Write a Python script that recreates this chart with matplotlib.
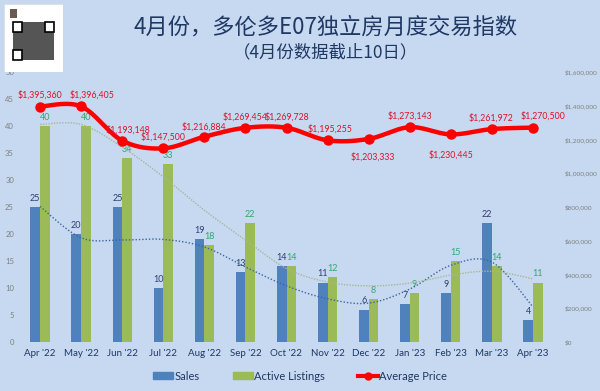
import numpy as np
import matplotlib
matplotlib.use("Agg")
import matplotlib.pyplot as plt
from matplotlib.lines import Line2D
from matplotlib.patches import Patch, Rectangle

plt.rcParams['font.family'] = ['Lato', 'Noto Sans CJK SC', 'DejaVu Sans']

# ---- data ----
months = ["Apr '22", "May '22", "Jun '22", "Jul '22", "Aug '22", "Sep '22", "Oct '22",
          "Nov '22", "Dec '22", "Jan '23", "Feb '23", "Mar '23", "Apr '23"]
sales = [25, 20, 25, 10, 19, 13, 14, 11, 6, 7, 9, 22, 4]
active = [40, 40, 34, 33, 18, 22, 14, 12, 8, 9, 15, 14, 11]
avg_price = [1395360, 1396405, 1193148, 1147500, 1216884, 1269454, 1269728,
             1195255, 1203333, 1273143, 1230445, 1261972, 1270500]

# trendlines (value at each month)
sales_trend = [25.1, 19.3, 18.9, 19.0, 17.6, 13.9, 10.4, 8.0, 7.2, 9.8, 14.2, 14.8, 6.5]
active_trend = [40.3, 40.3, 36.1, 30.6, 24.4, 18.9, 13.6, 11.1, 10.4, 10.9, 12.4, 13.1, 11.7]

title = "4月份，多伦多E07独立房月度交易指数"
subtitle = "（4月份数据截止10日）"

# colours
BG = "#C6D9F0"
BLUE = "#4F81BD"
GREEN = "#9BBB59"
RED = "#FF0000"
NAVY = "#1F3864"
GRAY = "#7F7F7F"

fig = plt.figure(figsize=(6.0, 3.91), dpi=100, facecolor=BG)
ax = fig.add_axes([0.0325, 0.1253, 0.89, 0.6905])
ax.set_facecolor(BG)
ax2 = ax.twinx()

x = np.arange(len(months))
w = 0.235
ax.bar(x - w / 2, sales, w, color=BLUE, zorder=2)
ax.bar(x + w / 2, active, w, color=GREEN, zorder=2)

for xi, v in zip(x, sales):
    ax.annotate(str(v), (xi - w / 2, v), xytext=(0, 3), textcoords="offset points",
                ha="center", va="bottom", fontsize=6.5, color="#2F3F6F")
for xi, v in zip(x, active):
    ax.annotate(str(v), (xi + w / 2, v), xytext=(0, 3), textcoords="offset points",
                ha="center", va="bottom", fontsize=6.5, color="#2EAA6E")


# smoothed line (Catmull-Rom through the points, like Excel's smooth line)
def smooth(xv, yv, n=30):
    P = np.column_stack([np.asarray(xv, float), np.asarray(yv, float)])
    P = np.vstack([P[0], P, P[-1]])
    out = []
    for i in range(1, len(P) - 2):
        p0, p1, p2, p3 = P[i - 1], P[i], P[i + 1], P[i + 2]
        t = np.linspace(0, 1, n)[:, None]
        seg = 0.5 * ((2 * p1) + (-p0 + p2) * t + (2 * p0 - 5 * p1 + 4 * p2 - p3) * t ** 2
                     + (-p0 + 3 * p1 - 3 * p2 + p3) * t ** 3)
        out.append(seg)
    out = np.vstack(out)
    return out[:, 0], out[:, 1]


tx, ty = smooth(x, sales_trend)
ax.plot(tx, ty, color="#3E64A0", lw=1.0, ls=(0, (1, 1.4)), zorder=3)
tx, ty = smooth(x, active_trend)
ax.plot(tx, ty, color="#A9B59A", lw=1.0, ls=(0, (1, 1.0)), zorder=3)

ax.set_xlim(-0.5, len(months) - 0.5)
ax.set_ylim(0, 50)
ax.set_yticks(np.arange(0, 51, 5))
ax.set_xticks(x)
ax.set_xticklabels(months, fontsize=7, color=NAVY)
ax.tick_params(axis="y", labelsize=5.5, labelcolor=GRAY, length=0, pad=4)
ax.tick_params(axis="x", length=0, pad=5)

sx, sy = smooth(x, avg_price)
ax2.plot(sx, sy, color=RED, lw=3.2, zorder=4, solid_capstyle="round")
ax2.plot(x, avg_price, "o", color=RED, ms=6.5, zorder=5)

label_off = [(0, 8), (8, 8), (4, 8), (0, 8), (0, 7), (0, 8), (0, 8),
             (2, 8), (3, -13), (0, 8), (0, -15), (-1, 8), (7, 8)]
for xi, v, (dx, dy) in zip(x, avg_price, label_off):
    ax2.annotate(f"${v:,.0f}", (xi, v), xytext=(dx, dy), textcoords="offset points",
                 ha="center", va="center", fontsize=6.3, color="#E0102A", zorder=6)

rticks = np.arange(0, 1600001, 200000)
ax2.set_ylim(0, 1600000)
ax2.set_yticks(rticks)
ax2.set_yticklabels([f"${v:,.0f}" for v in rticks])
ax2.tick_params(axis="y", labelsize=4.6, labelcolor=GRAY, length=0, pad=8)

for a in (ax, ax2):
    for s in a.spines.values():
        s.set_visible(False)

# titles
fig.text(0.543, 0.932, title, ha="center", va="center", fontsize=16,
         color=NAVY, fontweight="medium", family=["Noto Sans CJK SC", "DejaVu Sans"])
fig.text(0.542, 0.865, subtitle, ha="center", va="center", fontsize=12.5,
         color=NAVY, family=["Noto Sans CJK SC", "DejaVu Sans"])

# QR code placeholder (an image in the original)
qr = fig.add_axes([0.007, 0.816, 0.098, 0.174])
qr.set_xlim(0, 1)
qr.set_ylim(0, 1)
qr.axis("off")
qr.add_patch(Rectangle((0, 0), 1, 1, facecolor="white", edgecolor="#DDDDDD", lw=0.5))
qr.add_patch(Rectangle((0.15, 0.17), 0.7, 0.56, facecolor="#555555"))
for (qx, qy) in [(0.15, 0.58), (0.7, 0.58), (0.15, 0.17)]:
    qr.add_patch(Rectangle((qx, qy), 0.15, 0.15, facecolor="white", edgecolor="black", lw=1.2))
qr.add_patch(Rectangle((0.1, 0.8), 0.12, 0.12, facecolor="#6A5A50"))

handles = [Patch(color=BLUE, label="Sales"),
           Patch(color=GREEN, label="Active Listings"),
           Line2D([0], [0], color=RED, lw=3, marker="o", ms=5, label="Average Price")]
fig.legend(handles=handles, loc="center", bbox_to_anchor=(0.5, 0.038), ncol=3,
           frameon=False, fontsize=8, labelcolor=NAVY, handlelength=1.8,
           handletextpad=0.1, columnspacing=3.0, handleheight=0.6)

fig.savefig("out.png", dpi=100, facecolor=BG)
